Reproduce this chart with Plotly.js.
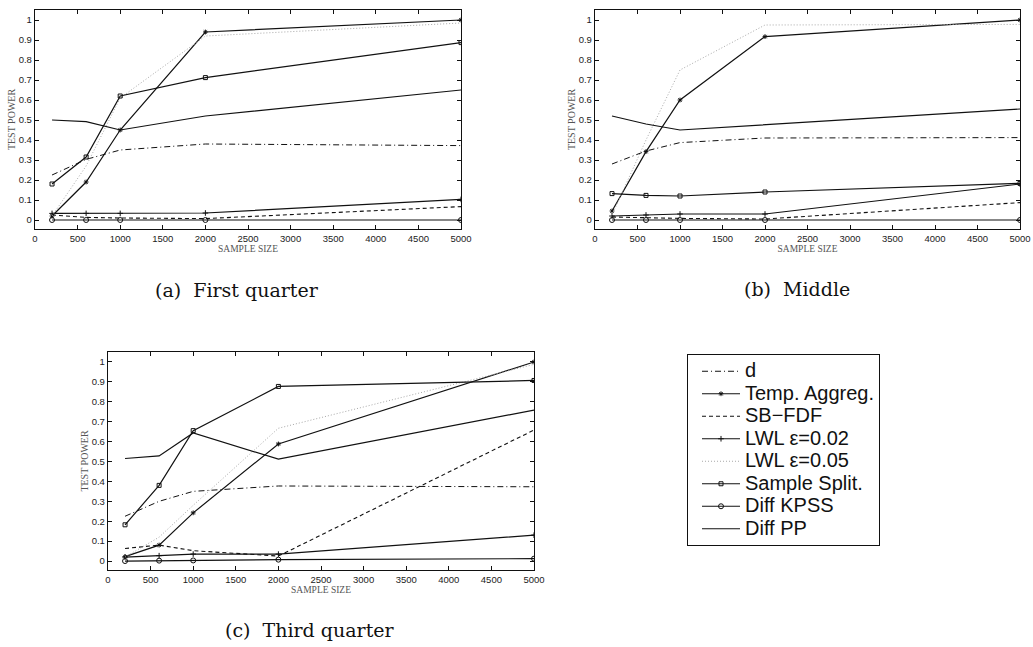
<!DOCTYPE html>
<html>
<head>
<meta charset="utf-8">
<script src="https://cdn.plot.ly/plotly-3.0.1.min.js"></script>
<style>html,body{margin:0;padding:0;background:#fff;}#chart{width:1033px;height:647px;}</style>
</head>
<body>
<div id="chart"></div>
<script>
// ---------- data ----------
const sampleSize = [200, 600, 1000, 2000, 5000];
const seriesNames = ['d', 'Temp. Aggreg.', 'SB\u2212FDF', 'LWL \u03b5=0.02', 'LWL \u03b5=0.05', 'Sample Split.', 'Diff KPSS', 'Diff PP'];
const xTickVals = [0, 500, 1000, 1500, 2000, 2500, 3000, 3500, 4000, 4500, 5000];
const yTickVals = [0, 0.1, 0.2, 0.3, 0.4, 0.5, 0.6, 0.7, 0.8, 0.9, 1];
const captions = ['(a)  First quarter', '(b)  Middle', '(c)  Third quarter'];

// panel (a) First quarter
const dA      = [0.225, 0.303, 0.35, 0.38, 0.372];
const tempA   = [0.02, 0.19, 0.45, 0.94, 1.0];
const sbfdfA  = [0.025, 0.013, 0.01, 0.007, 0.067];
const lwl02A  = [0.033, 0.033, 0.033, 0.035, 0.103];
const lwl05A  = [0.02, 0.27, 0.61, 0.92, 0.985];
const splitA  = [0.18, 0.315, 0.62, 0.712, 0.887];
const kpssA   = [0, 0, 0, 0, 0];
const ppA     = [0.50, 0.492, 0.45, 0.52, 0.65];

// panel (b) Middle
const dB      = [0.28, 0.345, 0.387, 0.41, 0.412];
const tempB   = [0.045, 0.342, 0.60, 0.917, 1.0];
const sbfdfB  = [0.015, 0.01, 0.008, 0.005, 0.087];
const lwl02B  = [0.02, 0.025, 0.03, 0.03, 0.18];
const lwl05B  = [0.025, 0.40, 0.75, 0.975, 0.978];
const splitB  = [0.132, 0.123, 0.12, 0.14, 0.183];
const kpssB   = [0, 0, 0, 0, 0];
const ppB     = [0.52, 0.48, 0.45, 0.476, 0.555];

// panel (c) Third quarter
const dC      = [0.225, 0.30, 0.35, 0.377, 0.373];
const tempC   = [0.022, 0.08, 0.242, 0.588, 1.0];
const sbfdfC  = [0.063, 0.08, 0.052, 0.025, 0.658];
const lwl02C  = [0.02, 0.027, 0.035, 0.035, 0.13];
const lwl05C  = [0.02, 0.12, 0.28, 0.667, 0.988];
const splitC  = [0.182, 0.38, 0.655, 0.877, 0.907];
const kpssC   = [0, 0.002, 0.003, 0.007, 0.012];
const ppC     = [0.515, 0.528, 0.643, 0.512, 0.758];

const panels = [
  [dA, tempA, sbfdfA, lwl02A, lwl05A, splitA, kpssA, ppA],
  [dB, tempB, sbfdfB, lwl02B, lwl05B, splitB, kpssB, ppB],
  [dC, tempC, sbfdfC, lwl02C, lwl05C, splitC, kpssC, ppC]
];

// ---------- styles ----------
const styles = [
  {mode: 'lines', line: {color: '#111', width: 1, dash: '6px,3px,1px,3px'}},
  {mode: 'lines+markers', line: {color: '#111', width: 1.2}, marker: {symbol: 'asterisk-open', size: 4, color: '#111', line: {width: 1, color: '#111'}}},
  {mode: 'lines', line: {color: '#111', width: 1.1, dash: '4px,3px'}},
  {mode: 'lines+markers', line: {color: '#111', width: 1.2}, marker: {symbol: 'cross-thin-open', size: 4, color: '#111', line: {width: 1, color: '#111'}}},
  {mode: 'lines', line: {color: '#a8a8a8', width: 1, dash: '1px,2px'}},
  {mode: 'lines+markers', line: {color: '#111', width: 1.2}, marker: {symbol: 'square-open', size: 4, color: '#111', line: {width: 1, color: '#111'}}},
  {mode: 'lines+markers', line: {color: '#111', width: 1.2}, marker: {symbol: 'circle-open', size: 5, color: '#111', line: {width: 1, color: '#111'}}},
  {mode: 'lines', line: {color: '#111', width: 1.2}}
];

const traces = [];
panels.forEach((pd, pi) => {
  pd.forEach((vals, si) => {
    const t = Object.assign({
      type: 'scatter',
      x: sampleSize,
      y: vals,
      name: '<span style="font-size:20px">' + seriesNames[si] + '</span>',
      showlegend: pi === 2,
      xaxis: 'x' + (pi === 0 ? '' : pi + 1),
      yaxis: 'y' + (pi === 0 ? '' : pi + 1),
      hoverinfo: 'skip'
    }, JSON.parse(JSON.stringify(styles[si])));
    traces.push(t);
  });
});

const W = 1033, H = 647;
// plot boxes in pixels: [left, right, top, bottom]
const boxes = [[35, 461, 10, 229], [595, 1020, 10, 229], [108, 534, 352, 570]];

function xAxis(box, anchor) {
  return {
    domain: [box[0] / W, box[1] / W],
    anchor: anchor,
    range: [0, 5000],
    tickvals: xTickVals,
    ticktext: xTickVals.map(String),
    ticks: 'inside', ticklen: 4, tickwidth: 1, tickcolor: '#111',
    showline: true, linecolor: '#111', linewidth: 1.2, mirror: 'ticks',
    showgrid: false, zeroline: false,
    tickfont: {family: 'Liberation Sans, Arial, sans-serif', size: 9.5, color: '#222'},
    title: {text: 'SAMPLE SIZE', font: {family: 'Liberation Serif, serif', size: 9.5, color: '#555'}, standoff: 0},
    automargin: false
  };
}
function yAxis(box, anchor) {
  return {
    domain: [1 - box[3] / H, 1 - box[2] / H],
    anchor: anchor,
    range: [-0.045, 1.05],
    tickvals: yTickVals,
    ticktext: yTickVals.map(v => String(Math.round(v * 10) / 10)),
    ticks: 'inside', ticklen: 4, tickwidth: 1, tickcolor: '#111',
    showline: true, linecolor: '#111', linewidth: 1.2, mirror: 'ticks',
    showgrid: false, zeroline: false,
    tickfont: {family: 'Liberation Sans, Arial, sans-serif', size: 9.5, color: '#222'},
    title: {text: 'TEST POWER', font: {family: 'Liberation Serif, serif', size: 10, color: '#555'}, standoff: 1},
    automargin: false
  };
}

const captionPos = [[237, 290], [797, 289], [310, 630]];
const annotations = captions.map((c, i) => ({
  text: c, xref: 'paper', yref: 'paper',
  x: captionPos[i][0] / W, y: 1 - captionPos[i][1] / H,
  xanchor: 'center', yanchor: 'middle', showarrow: false,
  font: {family: 'DejaVu Serif, serif', size: 19, color: '#111'}
}));

const layout = {
  width: W, height: H,
  margin: {l: 0, r: 0, t: 0, b: 0},
  paper_bgcolor: '#fff', plot_bgcolor: '#fff',
  showlegend: true,
  legend: {
    x: 687 / W, y: 1 - 354 / H, xanchor: 'left', yanchor: 'top',
    bordercolor: '#111', borderwidth: 1, bgcolor: '#fff',
    font: {family: 'Liberation Sans, Arial, sans-serif', size: 15, color: '#111'},
    traceorder: 'normal', itemwidth: 38, indentation: 9
  },
  xaxis: xAxis(boxes[0], 'y'), yaxis: yAxis(boxes[0], 'x'),
  xaxis2: xAxis(boxes[1], 'y2'), yaxis2: yAxis(boxes[1], 'x2'),
  xaxis3: xAxis(boxes[2], 'y3'), yaxis3: yAxis(boxes[2], 'x3'),
  annotations: annotations
};

Plotly.newPlot('chart', traces, layout, {staticPlot: true, displayModeBar: false});
</script>
</body>
</html>
